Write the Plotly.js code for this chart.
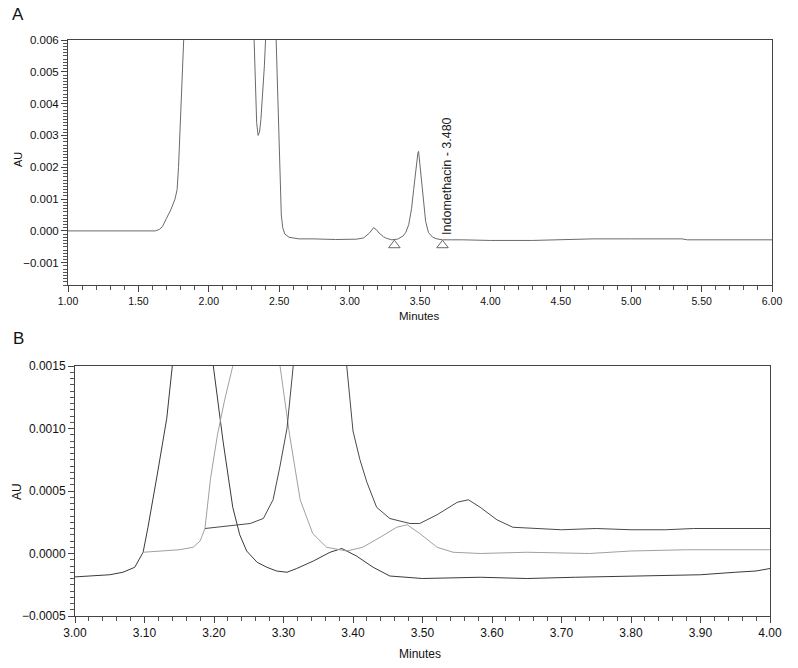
<!DOCTYPE html>
<html>
<head>
<meta charset="utf-8">
<script src="https://cdn.plot.ly/plotly-3.0.1.min.js"></script>
<style>html,body{margin:0;padding:0;background:#fff;}#chart{width:798px;height:668px;}</style>
</head>
<body>
<div id="chart"></div>
<script>
// Panel A: full chromatogram (minutes, AU)
const timeA = [1.00,1.30,1.62,1.65,1.67,1.70,1.73,1.76,1.775,1.785,1.795,1.80,1.815,1.825,1.84,1.90,2.10,2.28,2.32,2.33,2.34,2.35,2.36,2.37,2.38,2.395,2.405,2.44,2.475,2.485,2.495,2.505,2.515,2.525,2.54,2.57,2.64,2.74,2.90,3.05,3.10,3.14,3.17,3.19,3.21,3.24,3.26,3.30,3.34,3.38,3.40,3.42,3.44,3.455,3.47,3.485,3.49,3.50,3.51,3.525,3.54,3.56,3.59,3.62,3.66,3.80,4.00,4.30,4.60,4.73,5.00,5.20,5.36,5.40,5.70,6.00];
const auA = [0,0,0,0.00005,0.00013,0.0004,0.00066,0.001,0.0013,0.002,0.003,0.004,0.0052,0.006,0.008,0.015,0.02,0.012,0.0065,0.0045,0.0034,0.0030,0.0031,0.0035,0.0041,0.0052,0.0062,0.009,0.0065,0.0048,0.003,0.0015,0.0005,0.0001,-0.0001,-0.0002,-0.00025,-0.00025,-0.00027,-0.00026,-0.00022,-0.00007,0.0001,0.00004,-0.00007,-0.00018,-0.00023,-0.00028,-0.00026,-0.00016,-0.00004,0.0002,0.0007,0.0013,0.002,0.00245,0.0025,0.0021,0.0016,0.0009,0.0003,-0.00005,-0.0002,-0.00025,-0.00028,-0.00028,-0.0003,-0.0003,-0.00027,-0.00025,-0.00025,-0.00024,-0.00025,-0.00028,-0.00028,-0.00028];
// integration markers
const markTimes = [3.318, 3.66];
const markAU = [-0.00045, -0.00045];
const peakLabel = "Indomethacin - 3.480";

// Panel B: overlaid chromatograms (zoom)
const timeB1 = [3.00,3.03,3.05,3.069,3.086,3.098,3.105,3.118,3.132,3.14,3.16,3.18,3.199,3.213,3.227,3.237,3.247,3.262,3.276,3.29,3.305,3.319,3.343,3.367,3.384,3.405,3.429,3.453,3.50,3.583,3.65,3.72,3.82,3.90,3.95,3.98,4.00];
const auB1 = [-0.000187,-0.00018,-0.00017,-0.00015,-0.00011,0.00001,0.00021,0.00062,0.00108,0.0015,0.003,0.003,0.0015,0.0009,0.00037,0.00015,0.00002,-0.00007,-0.00011,-0.00014,-0.00015,-0.00012,-0.00006,0.00001,0.00004,-0.00002,-0.00011,-0.00018,-0.0002,-0.00019,-0.0002,-0.00019,-0.00018,-0.00017,-0.00015,-0.00014,-0.00012];
const timeB2 = [3.098,3.13,3.15,3.17,3.18,3.187,3.195,3.205,3.215,3.227,3.25,3.28,3.295,3.309,3.324,3.342,3.362,3.391,3.414,3.439,3.463,3.478,3.496,3.521,3.544,3.583,3.65,3.74,3.80,3.88,4.00];
const auB2 = [0.00001,0.00002,0.00003,0.00005,0.0001,0.0002,0.0006,0.00095,0.00122,0.0015,0.003,0.003,0.0015,0.00094,0.00043,0.00016,0.00005,0.00002,0.00005,0.00013,0.00021,0.00023,0.00016,0.00005,0.00001,0.0,0.00001,0.0,0.00002,0.00003,0.00003];
const timeB3 = [3.187,3.22,3.252,3.271,3.285,3.295,3.305,3.314,3.34,3.37,3.391,3.40,3.41,3.42,3.434,3.453,3.482,3.496,3.521,3.55,3.566,3.583,3.607,3.63,3.669,3.70,3.75,3.80,3.85,3.89,4.00];
const auB3 = [0.0002,0.00022,0.00024,0.00028,0.00043,0.0007,0.001,0.0015,0.003,0.003,0.0015,0.00098,0.00075,0.00057,0.00037,0.00028,0.00024,0.00024,0.00031,0.00041,0.00043,0.00037,0.00027,0.00021,0.0002,0.00019,0.0002,0.00019,0.00019,0.0002,0.0002];

const W = 798, H = 668;
const px = v => v / W;
const py = v => 1 - v / H;
const FONT = "Liberation Sans, Arial, sans-serif";
const AX = '#444';

const traces = [
  {x: timeA, y: auA, type: 'scatter', mode: 'lines', line: {color: '#6a6a6a', width: 1}, xaxis: 'x', yaxis: 'y'},
  {x: markTimes, y: markAU, type: 'scatter', mode: 'markers', marker: {symbol: 'triangle-up-open', size: 10, color: '#666', line: {width: 1, color: '#666'}}, xaxis: 'x', yaxis: 'y', cliponaxis: false},
  {x: timeB1, y: auB1, type: 'scatter', mode: 'lines', line: {color: '#3a3a3a', width: 1}, xaxis: 'x2', yaxis: 'y2'},
  {x: timeB2, y: auB2, type: 'scatter', mode: 'lines', line: {color: '#a0a0a0', width: 1}, xaxis: 'x2', yaxis: 'y2'},
  {x: timeB3, y: auB3, type: 'scatter', mode: 'lines', line: {color: '#4a4a4a', width: 1}, xaxis: 'x2', yaxis: 'y2'}
];

function ax(domain, range, tick0, dtick, mdtick, fmt, fsize, anchor) {
  return {domain, range, anchor, tick0, dtick, tickformat: fmt, showgrid: false, zeroline: false,
    showline: true, linecolor: AX, linewidth: 1, mirror: true, ticks: 'outside', ticklen: 6, tickcolor: AX, tickwidth: 1,
    tickfont: {family: FONT, size: fsize, color: '#111'},
    minor: {dtick: mdtick, tick0: tick0, ticks: 'outside', ticklen: 4, tickcolor: '#555', tickwidth: 1, showgrid: false}};
}

const layout = {
  width: W, height: H, showlegend: false,
  paper_bgcolor: '#fff', plot_bgcolor: '#fff',
  margin: {l: 0, r: 0, t: 0, b: 0},
  xaxis: ax([px(68), px(772)], [1, 6], 1, 0.5, 0.1, '.2f', 10.5, 'y'),
  yaxis: ax([py(285), py(40)], [-0.0017, 0.006], 0, 0.001, 0.0001, '.3f', 11.5, 'x'),
  xaxis2: ax([px(75), px(770)], [3, 4], 3, 0.1, 0.02, '.2f', 12, 'y2'),
  yaxis2: ax([py(616), py(366)], [-0.0005, 0.0015], 0, 0.0005, 0.00005, '.4f', 12, 'x2'),
  annotations: [
    {xref: 'paper', yref: 'paper', x: px(18), y: py(14), xanchor: 'center', yanchor: 'middle', text: 'A', showarrow: false, font: {family: FONT, size: 17, color: '#111'}},
    {xref: 'paper', yref: 'paper', x: px(18), y: py(338), xanchor: 'center', yanchor: 'middle', text: 'B', showarrow: false, font: {family: FONT, size: 17, color: '#111'}},
    {xref: 'paper', yref: 'paper', x: px(18), y: py(160), xanchor: 'center', yanchor: 'middle', text: 'AU', textangle: -90, showarrow: false, font: {family: FONT, size: 11, color: '#111'}},
    {xref: 'paper', yref: 'paper', x: px(17), y: py(492), xanchor: 'center', yanchor: 'middle', text: 'AU', textangle: -90, showarrow: false, font: {family: FONT, size: 12, color: '#111'}},
    {xref: 'paper', yref: 'paper', x: px(419), y: py(316), xanchor: 'center', yanchor: 'middle', text: 'Minutes', showarrow: false, font: {family: FONT, size: 11.5, color: '#111'}},
    {xref: 'paper', yref: 'paper', x: px(420), y: py(654), xanchor: 'center', yanchor: 'middle', text: 'Minutes', showarrow: false, font: {family: FONT, size: 12, color: '#111'}},
    {xref: 'x', yref: 'y', x: 3.69, y: -0.00018, text: peakLabel, textangle: -90, showarrow: false, xanchor: 'center', yanchor: 'bottom', font: {family: FONT, size: 12.5, color: '#222'}}
  ]
};

Plotly.newPlot('chart', traces, layout, {displayModeBar: false, staticPlot: true});
</script>
</body>
</html>
